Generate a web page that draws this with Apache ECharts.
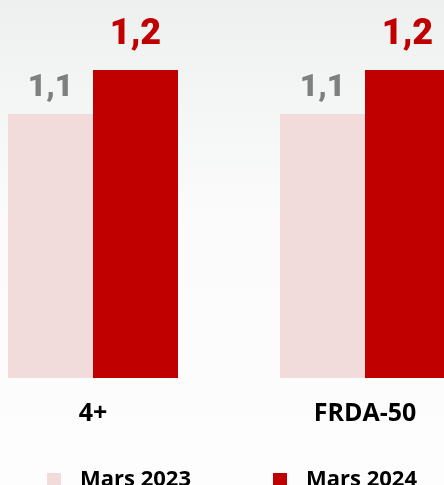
<!DOCTYPE html>
<html>
<head>
<meta charset="utf-8">
<style>
html,body{margin:0;padding:0;}
#chart{width:444px;height:485px;}
</style>
<script src="https://cdn.jsdelivr.net/npm/echarts@6/dist/echarts.min.js"></script>
</head>
<body>
<div id="chart"></div>
<script>
var categories = ['4+', 'FRDA-50'];
var seriesNames = ['Mars 2023', 'Mars 2024'];
var values2023 = [1.1, 1.1];
var values2024 = [1.2, 1.2];

var FONT = 'Open Sans';
var LABEL_FONT = 'Roboto';
var chart = echarts.init(document.getElementById('chart'));
function fmt(p){ return String(p.value).replace('.', ','); }
chart.setOption({
  animation: false,
  backgroundColor: {
    type: 'linear', x: 0, y: 0, x2: 0, y2: 1,
    colorStops: [
      {offset: 0, color: '#eef0f0'},
      {offset: 0.45, color: '#fbfbfb'},
      {offset: 1, color: '#fdfdfd'}
    ]
  },
  grid: {left: -43, right: -57, top: 70, bottom: 107, outerBoundsMode: 'none', containLabel: false},
  legend: [
    {
      data: [seriesNames[0]], left: 47, top: 469, padding: 0,
      itemWidth: 14, itemHeight: 14, icon: 'rect',
      textStyle: {fontFamily: FONT, fontWeight: 'bold', fontSize: 22, color: '#000', padding: [0,0,0,14], lineHeight: 14}
    },
    {
      data: [seriesNames[1]], left: 273, top: 469, padding: 0,
      itemWidth: 14, itemHeight: 14, icon: 'rect',
      textStyle: {fontFamily: FONT, fontWeight: 'bold', fontSize: 22, color: '#000', padding: [0,0,0,14], lineHeight: 14}
    }
  ],
  xAxis: {
    type: 'category', data: categories,
    axisLine: {show: false}, axisTick: {show: false},
    axisLabel: {fontFamily: FONT, fontWeight: 'bold', fontSize: 25, color: '#000', margin: 23}
  },
  yAxis: {type: 'value', min: 0.5, max: 1.2, show: false, splitLine: {show: false}},
  series: [
    {
      name: seriesNames[0], type: 'bar', data: values2023, barWidth: 85, barGap: '0%',
      itemStyle: {color: '#f2dcdb'},
      label: {show: true, position: 'top', distance: 10, formatter: fmt,
        fontFamily: LABEL_FONT, fontWeight: 900, fontSize: 32, color: '#7f7f7f'}
    },
    {
      name: seriesNames[1], type: 'bar', data: values2024, barWidth: 85,
      itemStyle: {color: '#c00000'},
      label: {show: true, position: 'top', distance: 17, formatter: fmt,
        fontFamily: LABEL_FONT, fontWeight: 900, fontSize: 36, color: '#c00000'}
    }
  ]
});
</script>
</body>
</html>
